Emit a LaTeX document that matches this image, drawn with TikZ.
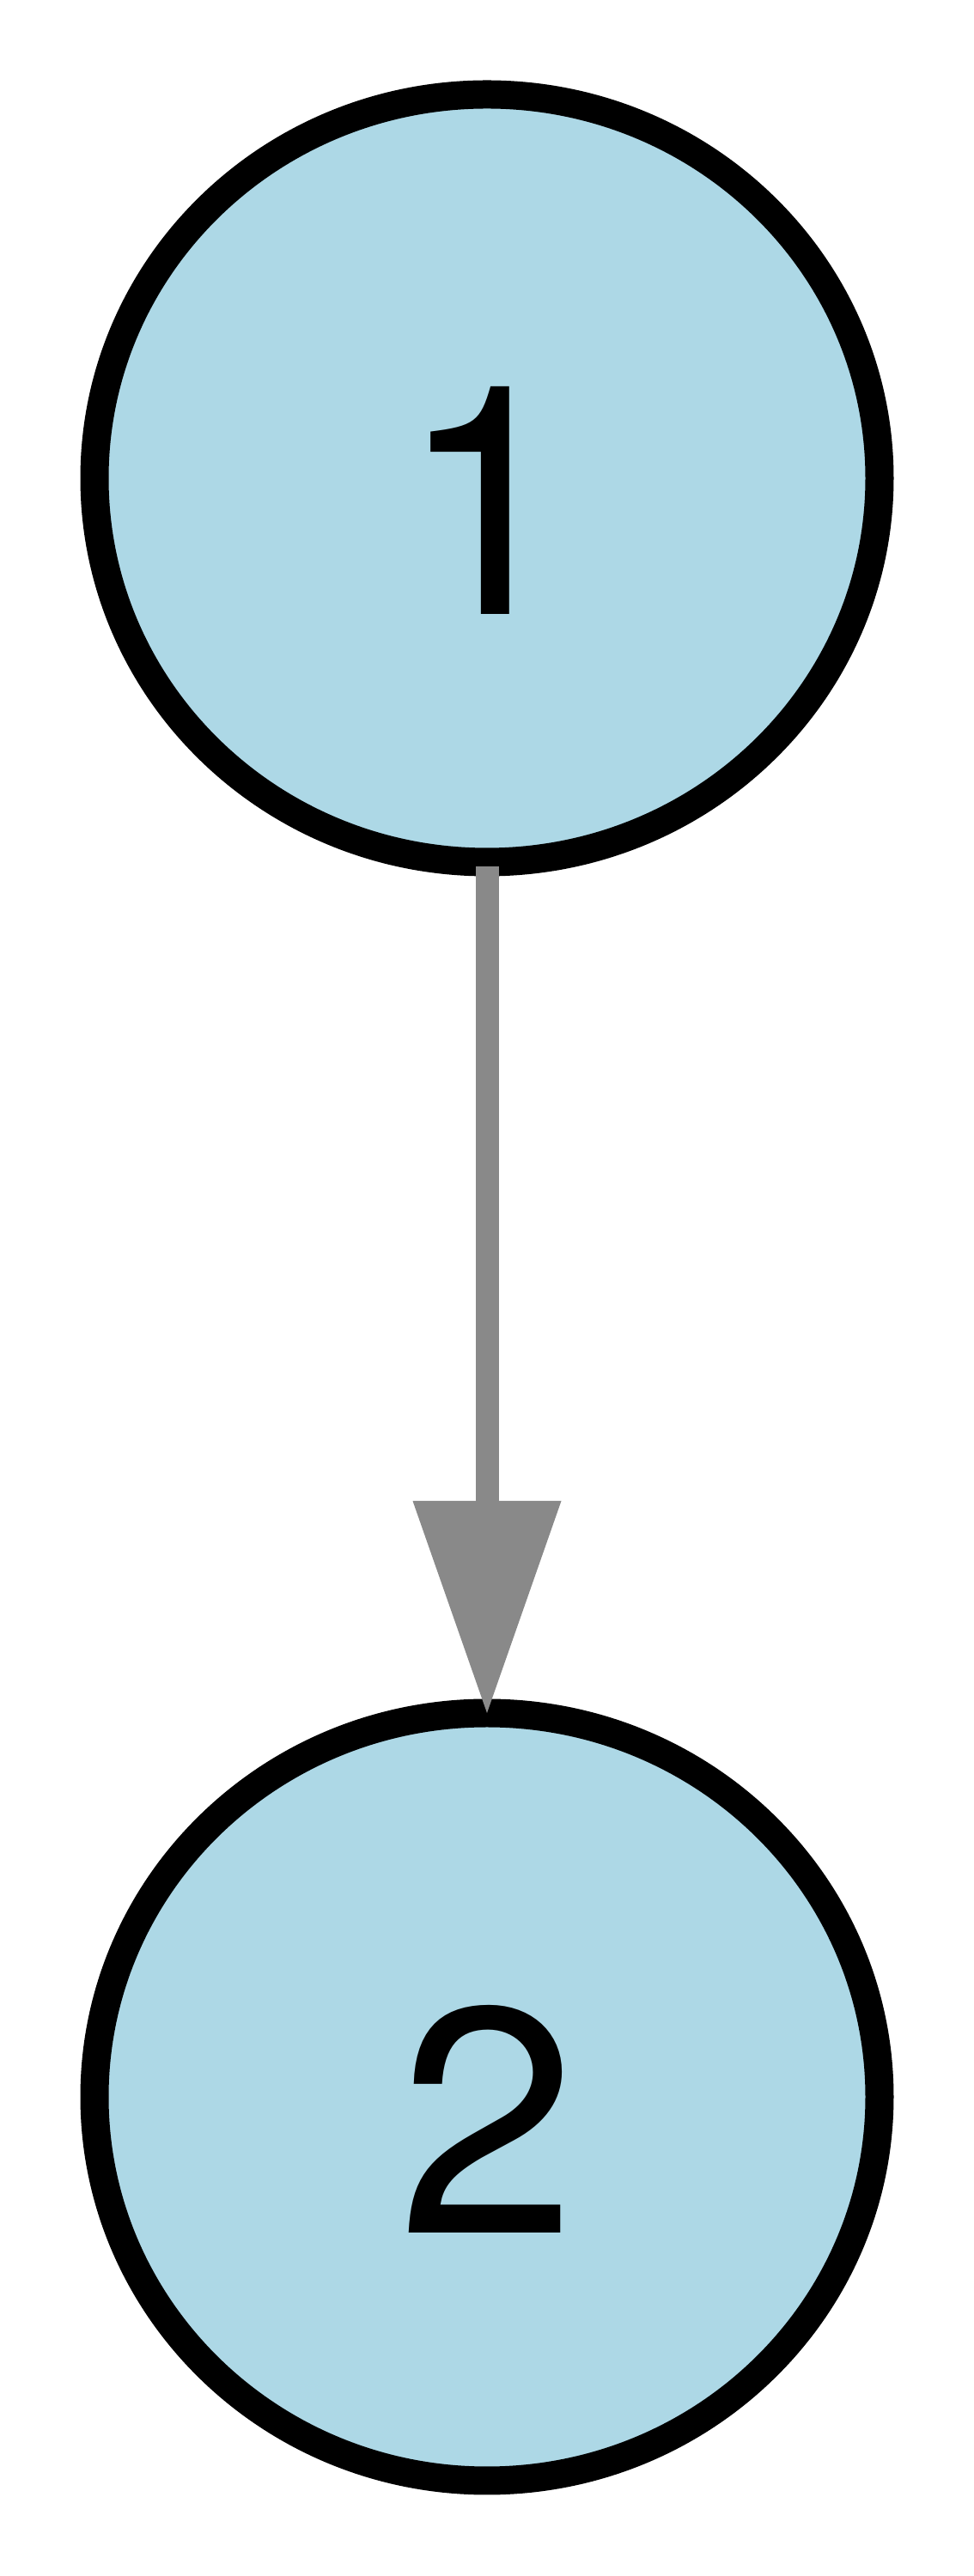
\documentclass[tikz,border=0pt]{standalone}
\usepackage{fontspec}
\setmainfont{TeX Gyre Heros}
\usetikzlibrary{arrows.meta,shapes.geometric}
\definecolor{nodefill}{HTML}{ADD8E6}
\definecolor{edgegray}{HTML}{898989}
\tikzset{
  graphnode/.style={ellipse, draw=black, fill=nodefill, line width=16.5pt,
    minimum width=457pt, minimum height=447pt, inner sep=0pt, outer sep=0pt,
    text height=159pt, text depth=0pt,
    font=\fontsize{187pt}{200pt}\selectfont},
  graphedge/.style={draw=edgegray, line width=13.5pt,
    -{Triangle[length=123.5pt, width=86.5pt, line width=0pt, fill=edgegray]},
    shorten <=2.5pt}
}
\begin{document}
\begin{tikzpicture}[x=1pt,y=1pt]
\useasboundingbox (0,0) rectangle (567,1500);
\node[graphnode] (n1) at (283.5,1221.5) {1};
\node[graphnode] (n2) at (283.5,279) {2};
\draw[graphedge] (n1) -- (n2);
\end{tikzpicture}
\end{document}
